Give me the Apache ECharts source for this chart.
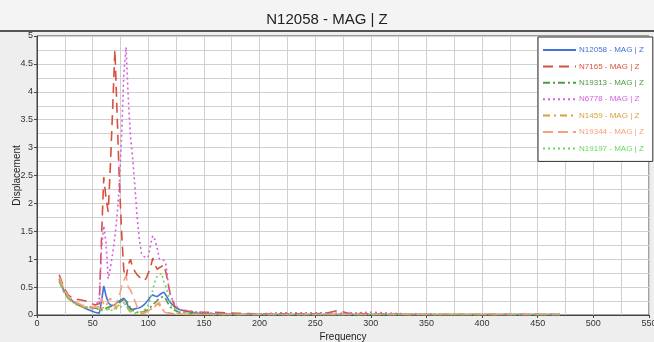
<!DOCTYPE html>
<html>
<head>
<meta charset="utf-8">
<script src="https://cdn.jsdelivr.net/npm/echarts@6/dist/echarts.min.js"></script>
<style>
  html, body { margin: 0; padding: 0; background: #eeeeee; }
  #chart { width: 654px; height: 342px; }
</style>
</head>
<body>
<div id="chart"></div>
<script>
// frequency samples shared by all curves
const freq = [20, 24, 28, 32, 36, 40, 44, 48, 52, 56, 58, 60, 62, 64, 66, 68, 70, 72, 74, 76,
  78, 80, 82, 84, 86, 88, 90, 92, 94, 96, 98, 100, 102, 104, 106, 108, 110, 112, 114, 116,
  118, 120, 124, 128, 135, 145, 160, 180, 200, 220, 240, 260, 270, 280, 300, 330, 360, 400, 440, 470];

const n12058 = [0.65, 0.45, 0.33, 0.25, 0.19, 0.15, 0.11, 0.08, 0.05, 0.03, 0.25, 0.52, 0.35, 0.22, 0.18, 0.17, 0.19, 0.22, 0.25, 0.28,
  0.3, 0.25, 0.15, 0.1, 0.1, 0.11, 0.12, 0.13, 0.15, 0.18, 0.22, 0.27, 0.33, 0.36, 0.34, 0.33, 0.36, 0.39, 0.41, 0.35,
  0.28, 0.22, 0.14, 0.1, 0.06, 0.03, 0.02, 0.01, 0.01, 0.01, 0.01, 0.01, 0.01, 0.01, 0.01, 0.01, 0.01, 0.01, 0.01, 0.01];
const n7165 = [0.72, 0.5, 0.36, 0.3, 0.28, 0.27, 0.25, 0.22, 0.18, 0.2, 1.4, 2.47, 2.1, 1.85, 2.7, 3.7, 4.75, 3.6, 2.4, 1.5,
  0.8, 0.65, 0.9, 1.0, 0.85, 0.78, 0.72, 0.68, 0.63, 0.62, 0.65, 0.75, 0.85, 1.02, 0.9, 0.82, 0.85, 0.87, 0.9, 0.75,
  0.55, 0.35, 0.15, 0.1, 0.07, 0.05, 0.05, 0.03, 0.02, 0.02, 0.02, 0.03, 0.08, 0.03, 0.02, 0.01, 0.01, 0.01, 0.01, 0.01];
const n19313 = [0.62, 0.42, 0.3, 0.24, 0.19, 0.16, 0.14, 0.13, 0.12, 0.12, 0.1, 0.1, 0.12, 0.14, 0.15, 0.16, 0.18, 0.2, 0.22, 0.25,
  0.28, 0.27, 0.2, 0.12, 0.08, 0.06, 0.05, 0.05, 0.05, 0.06, 0.08, 0.1, 0.14, 0.18, 0.22, 0.26, 0.3, 0.32, 0.33, 0.28,
  0.2, 0.14, 0.08, 0.05, 0.04, 0.02, 0.01, 0.01, 0.01, 0.01, 0.01, 0.01, 0.01, 0.01, 0.01, 0.01, 0.01, 0.01, 0.01, 0.01];
const n6778 = [0.65, 0.45, 0.32, 0.25, 0.2, 0.16, 0.14, 0.13, 0.12, 0.3, 1.2, 1.6, 1.3, 0.65, 0.85, 1.1, 1.4, 1.8, 2.3, 3.2,
  4.3, 4.8, 3.9, 3.2, 2.8, 2.3, 1.75, 1.35, 1.1, 1.05, 1.02, 1.05, 1.25, 1.42, 1.35, 1.2, 1.0, 1.0, 0.98, 0.9,
  0.55, 0.35, 0.18, 0.1, 0.08, 0.05, 0.03, 0.02, 0.02, 0.04, 0.04, 0.04, 0.03, 0.03, 0.05, 0.02, 0.01, 0.01, 0.01, 0.01];
const n1459 = [0.6, 0.42, 0.3, 0.23, 0.18, 0.15, 0.13, 0.12, 0.11, 0.1, 0.12, 0.13, 0.12, 0.11, 0.1, 0.1, 0.12, 0.15, 0.18, 0.2,
  0.22, 0.18, 0.1, 0.05, 0.03, 0.02, 0.01, 0.01, 0.02, 0.03, 0.05, 0.07, 0.1, 0.12, 0.15, 0.2, 0.18, 0.12, 0.08, 0.05,
  0.04, 0.03, 0.02, 0.02, 0.01, 0.01, 0.01, 0.01, 0.01, 0.01, 0.01, 0.01, 0.01, 0.01, 0.01, 0.01, 0.01, 0.01, 0.01, 0.01];
const n19344 = [0.68, 0.48, 0.34, 0.27, 0.22, 0.18, 0.16, 0.15, 0.14, 0.15, 0.3, 0.2, 0.15, 0.25, 0.3, 0.2, 0.15, 0.25, 0.35, 0.5,
  0.62, 0.7, 0.5, 0.45, 0.35, 0.25, 0.15, 0.08, 0.05, 0.04, 0.05, 0.07, 0.1, 0.12, 0.15, 0.2, 0.22, 0.12, 0.06, 0.04,
  0.03, 0.03, 0.02, 0.02, 0.01, 0.01, 0.01, 0.01, 0.01, 0.01, 0.01, 0.01, 0.01, 0.01, 0.01, 0.01, 0.01, 0.01, 0.01, 0.01];
const n19197 = [0.6, 0.42, 0.3, 0.23, 0.18, 0.15, 0.13, 0.12, 0.11, 0.1, 0.08, 0.08, 0.1, 0.09, 0.08, 0.09, 0.1, 0.12, 0.14, 0.15,
  0.18, 0.2, 0.12, 0.08, 0.05, 0.04, 0.04, 0.05, 0.06, 0.08, 0.12, 0.18, 0.3, 0.45, 0.6, 0.7, 0.72, 0.75, 0.6, 0.5,
  0.35, 0.2, 0.1, 0.06, 0.04, 0.02, 0.01, 0.01, 0.01, 0.01, 0.01, 0.01, 0.01, 0.01, 0.01, 0.01, 0.01, 0.01, 0.01, 0.01];

const names = ["N12058 - MAG | Z", "N7165 - MAG | Z", "N19313 - MAG | Z", "N6778 - MAG | Z",
  "N1459 - MAG | Z", "N19344 - MAG | Z", "N19197 - MAG | Z"];
const values = [n12058, n7165, n19313, n6778, n1459, n19344, n19197];
const colors = ["#4472d8", "#d9503f", "#4f9a45", "#d65ee0", "#d9a040", "#f7a07c", "#66d860"];
const dashes = ["solid", [10, 6], [7, 3, 2, 3], [2, 3], [7, 4, 2, 4], [10, 5], [2, 3]];

const chart = echarts.init(document.getElementById("chart"));

chart.setOption({
  backgroundColor: "#eeeeee",
  animation: false,
  title: {
    text: "N12058 - MAG | Z",
    left: "center",
    top: 7,
    textStyle: { fontFamily: "Liberation Sans", fontSize: 15, fontWeight: "normal", color: "#222" }
  },
  graphic: [
    { type: "rect", shape: { x: 0, y: 0, width: 654, height: 31 }, style: { fill: "#f4f4f4" }, z: -1 },
    { type: "line", shape: { x1: 0, y1: 31, x2: 654, y2: 31 }, style: { stroke: "#555", lineWidth: 2 } }
  ],
  legend: {
    orient: "vertical",
    left: 538,
    top: 37,
    backgroundColor: "#fff",
    borderColor: "#333",
    borderWidth: 1,
    padding: [9, 9, 9, 4],
    itemWidth: 33,
    itemHeight: 8,
    itemGap: 8.4,
    itemStyle: { opacity: 0 },
    data: names.map((nm, i) => ({ name: nm, textStyle: { color: colors[i] } })),
    textStyle: { fontFamily: "Liberation Sans", fontSize: 8, padding: [0, 0, 0, -2] }
  },
  grid: {
    left: 37, right: 5, top: 36, bottom: 27,
    outerBoundsMode: "none",
    show: true, backgroundColor: "#fff", borderColor: "#444", borderWidth: 1
  },
  xAxis: {
    type: "value",
    min: 0,
    max: 550,
    interval: 50,
    name: "Frequency",
    nameLocation: "middle",
    nameGap: 17,
    nameMoveOverlap: false,
    nameTextStyle: { fontFamily: "Liberation Sans", fontSize: 10, color: "#222" },
    axisLine: { lineStyle: { color: "#444" } },
    axisTick: { length: 3, lineStyle: { color: "#444" } },
    axisLabel: { fontFamily: "Liberation Sans", fontSize: 9, color: "#333", margin: 4 },
    splitLine: { lineStyle: { color: "#d0d0d0" } },
    minorTick: { show: false, splitNumber: 2 },
    minorSplitLine: { show: true, lineStyle: { color: "#d0d0d0" } }
  },
  yAxis: {
    type: "value",
    min: 0,
    max: 5,
    interval: 0.5,
    name: "Displacement",
    nameLocation: "middle",
    nameGap: 15,
    nameMoveOverlap: false,
    nameTextStyle: { fontFamily: "Liberation Sans", fontSize: 10, color: "#222" },
    axisLine: { show: true, lineStyle: { color: "#444" } },
    axisTick: { show: true, length: 3, lineStyle: { color: "#444" } },
    axisLabel: { fontFamily: "Liberation Sans", fontSize: 9, color: "#333", margin: 4 },
    splitLine: { lineStyle: { color: "#d0d0d0" } },
    minorTick: { show: false, splitNumber: 2 },
    minorSplitLine: { show: true, lineStyle: { color: "#d0d0d0" } }
  },
  series: names.map((nm, i) => ({
    name: nm,
    type: "line",
    symbol: "none",
    data: freq.map((f, j) => [f, values[i][j]]),
    lineStyle: { color: colors[i], width: 1.6, type: dashes[i] },
    itemStyle: { color: colors[i] }
  }))
});
</script>
</body>
</html>
